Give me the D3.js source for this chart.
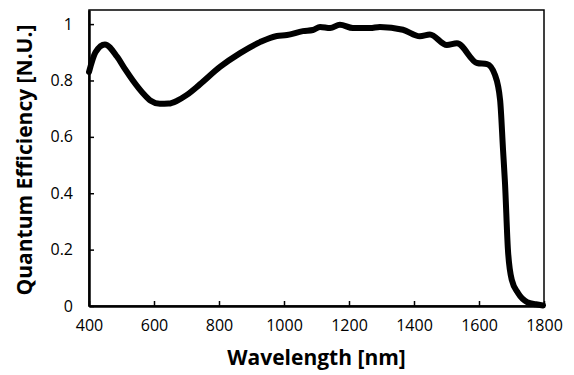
<!DOCTYPE html>
<html>
<head>
<meta charset="utf-8">
<script src="https://cdn.jsdelivr.net/npm/d3@7"></script>
<style>
  body { margin: 0; background: #fff; }
  svg text { font-family: "Open Sans", sans-serif; fill: #000; }
</style>
</head>
<body>
<div class="container"></div>
<script>
const WIDTH = 574;
const HEIGHT = 375;
const MARGIN = {top: 10, right: 30, bottom: 69, left: 89};
const INNER_WIDTH = WIDTH - MARGIN.left - MARGIN.right;
const INNER_HEIGHT = HEIGHT - MARGIN.top - MARGIN.bottom;

// wavelength [nm] and normalised quantum efficiency
var wavelength = [400, 420, 449, 486, 511, 535, 566, 590, 618, 645, 671, 700, 741, 803, 865, 926, 978,
    1009, 1058, 1089, 1111, 1142, 1172, 1212, 1265, 1295, 1366, 1418, 1449, 1501, 1532, 1594, 1625,
    1649, 1665, 1674, 1680, 1689, 1701, 1720, 1748, 1775, 1797];
var efficiency = [0.83, 0.9, 0.928, 0.885, 0.84, 0.80, 0.755, 0.728, 0.717, 0.718, 0.728, 0.748, 0.786,
    0.848, 0.897, 0.936, 0.958, 0.961, 0.975, 0.979, 0.99, 0.986, 0.998, 0.986, 0.986, 0.99, 0.98,
    0.957, 0.963, 0.926, 0.932, 0.862, 0.858, 0.82, 0.73, 0.553, 0.436, 0.2, 0.092, 0.046, 0.014,
    0.006, 0.002];
var xTicks = [400, 600, 800, 1000, 1200, 1400, 1600, 1800];
var yTicks = [0, 0.2, 0.4, 0.6, 0.8, 1];

var _xScale = d3.scaleLinear().domain([400, 1800]).range([0, INNER_WIDTH]);
var _yScale = d3.scaleLinear().domain([0, 1.05]).range([INNER_HEIGHT, 0]);

var _svg = d3.select('.container').append('svg').attr('width', WIDTH).attr('height', HEIGHT);
var g = _svg.append('g').attr('transform', 'translate(' + MARGIN.left + ',' + MARGIN.top + ')');

// frame
g.append('rect')
    .attr('width', INNER_WIDTH).attr('height', INNER_HEIGHT)
    .attr('fill', 'none').attr('stroke', '#000').attr('stroke-width', 1.5);

var xAxis = d3.axisBottom(_xScale).tickValues(xTicks).tickSizeInner(-5).tickSizeOuter(0).tickPadding(14)
    .tickFormat(d3.format('d'));
var yAxis = d3.axisLeft(_yScale).tickValues(yTicks).tickSizeInner(-5).tickSizeOuter(0).tickPadding(16)
    .tickFormat(function (d) { return d === 0 || d === 1 ? d : d.toFixed(1); });

var gx = g.append('g').attr('transform', 'translate(0,' + INNER_HEIGHT + ')').call(xAxis);
var gy = g.append('g').call(yAxis);
[gx, gy].forEach(function (a) {
    a.select('.domain').attr('stroke-width', 2.5);
    a.selectAll('.tick line').attr('stroke-width', 1.5);
    a.selectAll('.tick text').attr('font-size', 16).attr('font-family', '"Open Sans", sans-serif');
});

var line = d3.line()
    .x(function (d, i) { return _xScale(wavelength[i]); })
    .y(function (d) { return _yScale(d); })
    .curve(d3.curveMonotoneX);

g.append('path')
    .datum(efficiency)
    .attr('d', line)
    .attr('fill', 'none')
    .attr('stroke', '#000')
    .attr('stroke-width', 6)
    .attr('stroke-linejoin', 'round')
    .attr('stroke-linecap', 'round');

_svg.append('text')
    .attr('x', MARGIN.left + INNER_WIDTH / 2)
    .attr('y', 365)
    .attr('text-anchor', 'middle')
    .attr('font-size', 21)
    .attr('font-weight', 'bold')
    .text('Wavelength [nm]');

_svg.append('text')
    .attr('transform', 'translate(32,' + (MARGIN.top + INNER_HEIGHT / 2 + 2) + ') rotate(-90)')
    .attr('text-anchor', 'middle')
    .attr('font-size', 21)
    .attr('font-weight', 'bold')
    .text('Quantum Efficiency [N.U.]');
</script>
</body>
</html>
